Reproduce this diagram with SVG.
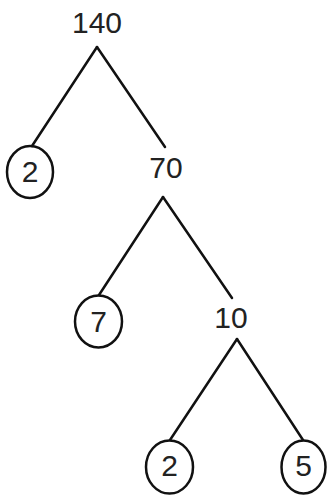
<svg xmlns="http://www.w3.org/2000/svg" width="330" height="498" viewBox="0 0 330 498">
<style>
.lbl{font-family:"Liberation Sans",Arial,sans-serif;font-size:30px;fill:#222;text-anchor:middle}
.ring{fill:none;stroke:#111;stroke-width:2.5}
.edge{stroke:#111;stroke-width:2.5;fill:none;stroke-linecap:round}
</style>
<rect width="330" height="498" fill="#fff"/>
<g id="connectors">
<line class="edge" x1="97" y1="47" x2="32" y2="146"/>
<line class="edge" x1="97" y1="47" x2="165" y2="147"/>
<line class="edge" x1="163" y1="197" x2="99" y2="295"/>
<line class="edge" x1="163" y1="197" x2="232" y2="298"/>
<line class="edge" x1="237" y1="339" x2="170" y2="440"/>
<line class="edge" x1="237" y1="339" x2="303" y2="440"/>
</g>
<g id="n140"><text class="lbl" x="97" y="33">140</text></g>
<g id="n2a"><ellipse class="ring" cx="30" cy="172" rx="23" ry="26"/><text class="lbl" x="30" y="182">2</text></g>
<g id="n70"><text class="lbl" x="166" y="178">70</text></g>
<g id="n7"><ellipse class="ring" cx="98.5" cy="321.5" rx="23.5" ry="26"/><text class="lbl" x="98.5" y="332">7</text></g>
<g id="n10"><text class="lbl" x="231" y="328">10</text></g>
<g id="n2b"><ellipse class="ring" cx="169.5" cy="467" rx="23.5" ry="26.5"/><text class="lbl" x="169.5" y="476">2</text></g>
<g id="n5"><ellipse class="ring" cx="303.5" cy="467" rx="22" ry="26.5"/><text class="lbl" x="303.5" y="476">5</text></g>
</svg>
